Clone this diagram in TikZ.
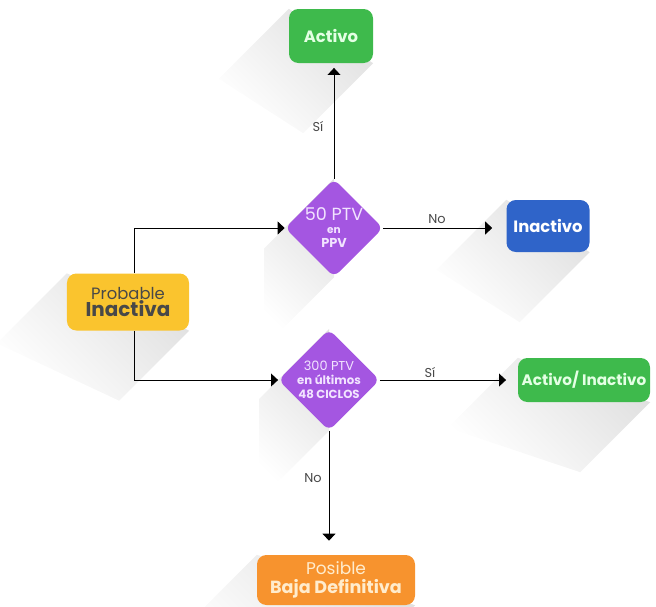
\documentclass[tikz,border=0pt]{standalone}
\usepackage{fontspec}
\setmainfont{Poppins}
\usetikzlibrary{shapes.geometric,arrows.meta,calc}

\definecolor{verde}{RGB}{62,186,76}
\definecolor{azul}{RGB}{47,100,201}
\definecolor{morado}{RGB}{164,86,225}
\definecolor{amarillo}{RGB}{250,196,46}
\definecolor{naranja}{RGB}{247,147,46}
\definecolor{gristexto}{RGB}{72,72,72}
\definecolor{lila}{RGB}{242,228,255}
\definecolor{verdeclaro}{RGB}{228,255,228}
\definecolor{crema}{RGB}{255,236,205}

\pgfdeclarelayer{fondo}
\pgfsetlayers{fondo,main}

\tikzset{
  caja/.style={rounded corners=8pt, inner sep=0pt, align=center},
  rombo/.style={diamond, rounded corners=6pt, fill=morado, inner sep=0pt,
    minimum width=2.82cm, minimum height=2.82cm, align=center, text=lila},
  flecha/.style={line width=0.8pt, -{Triangle[width=11pt,length=6pt]}},
  etiq/.style={font=\fontsize{11}{11}\selectfont, text=gristexto},
  sombra/.style={top color=gray!24, bottom color=white, shading angle=-45, draw=none}
}

% sombra larga hacia abajo a la izquierda
\newcommand{\largasombra}[2]{%
  \begin{pgfonlayer}{fondo}
  \shade[sombra] (#1) -- (#2) -- ($(#2)+(-70,70)$) -- ($(#1)+(-70,70)$) -- cycle;
  \end{pgfonlayer}}

\begin{document}
\begin{tikzpicture}[x=0.03cm,y=-0.03cm]
\useasboundingbox (0,0) rectangle (656,606);

\node[caja, fill=verde, text=verdeclaro, minimum width=2.52cm, minimum height=1.62cm,
  font=\fontsize{14}{14}\selectfont\bfseries] (activo) at (331,36) {Activo};
\node[rombo] (ptv50) at (334,228) {\fontsize{15}{15}\selectfont 50 PTV\\[-1pt]
  \fontsize{9}{11}\selectfont\bfseries en\\
  \fontsize{11}{11}\selectfont\bfseries PPV};
\node[caja, fill=azul, text=white, minimum width=2.49cm, minimum height=1.56cm,
  font=\fontsize{14}{14}\selectfont\bfseries] (inactivo) at (548,226) {Inactivo};
\node[caja, fill=amarillo, text=gristexto, minimum width=3.66cm, minimum height=1.71cm]
  (probable) at (128,302) {\fontsize{14}{18}\selectfont Probable\\
  \fontsize{17}{18}\selectfont\bfseries Inactiva};
\node[rombo] (ptv300) at (329,380) {\fontsize{11}{12}\selectfont 300 PTV\\
  \fontsize{10}{11.5}\selectfont\bfseries en últimos\\
  \fontsize{10}{11.5}\selectfont\bfseries 48 CICLOS};
\node[caja, fill=naranja, text=crema, minimum width=4.74cm, minimum height=1.5cm]
  (baja) at (336,580) {\fontsize{14.5}{16}\selectfont Posible\\[3pt]
  \fontsize{15}{16}\selectfont\bfseries Baja Definitiva};
\node[caja, fill=verde, text=verdeclaro, minimum width=3.96cm, minimum height=1.32cm,
  font=\fontsize{13}{13}\selectfont\bfseries] (ambos) at (584,380) {Activo/ Inactivo};

\largasombra{activo.north west}{activo.south east}
\largasombra{inactivo.north west}{inactivo.south east}
\largasombra{probable.north west}{probable.south east}
\largasombra{ambos.north west}{ambos.south east}
\largasombra{baja.north west}{baja.south east}
\largasombra{ptv50.north}{ptv50.south}
\largasombra{ptv300.north}{ptv300.south}

\draw[flecha, shorten >=4] (ptv50.north) -- (ptv50.north |- activo.south);
\draw[flecha, shorten >=12] (ptv50.east) -- (ptv50.east -| inactivo.west);
\draw[flecha] ($(probable.north)+(6,0)$) |- (ptv50.west);
\draw[flecha] ($(probable.south)+(6,0)$) |- (ptv300.west);
\draw[flecha, shorten >=10] (ptv300.east) -- (ptv300.east -| ambos.west);
\draw[flecha, shorten >=12] (ptv300.south) -- (ptv300.south |- baja.north);

\node[etiq] (si1) at (318,127) {Sí};
\node[etiq] (no1) at (437,219) {No};
\node[etiq] (si2) at (430,372) {Sí};
\node[etiq] (no2) at (313,478) {No};
\end{tikzpicture}
\end{document}
